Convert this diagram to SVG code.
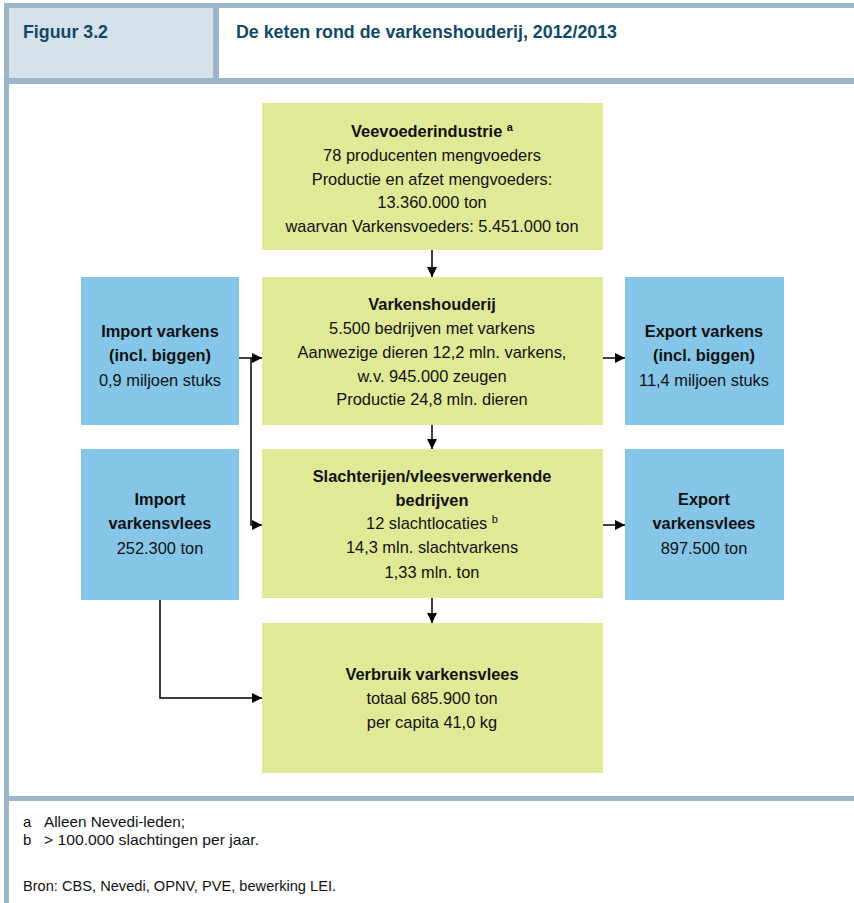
<svg xmlns="http://www.w3.org/2000/svg" width="854" height="903" viewBox="0 0 854 903">
<defs>
<marker id="ah" viewBox="0 0 10 10" refX="10" refY="5" markerWidth="10" markerHeight="10" markerUnits="userSpaceOnUse" orient="auto">
<path d="M0,0 L10,5 L0,10 z" fill="#000"/>
</marker>
<style>
.frame{fill:#9BB5CA}
.green{fill:#E0E996}
.blue{fill:#85C6E8}
.t{font-family:"Liberation Sans",Arial,sans-serif;font-size:16.4px;fill:#111;text-anchor:middle}
.b{font-weight:bold}
.hd{font-family:"Liberation Sans",Arial,sans-serif;font-size:17.5px;font-weight:bold;fill:#0E4A68}
.ft{font-family:"Liberation Sans",Arial,sans-serif;font-size:15px;fill:#111}
.c{fill:none;stroke:#000;stroke-width:1.5}
</style>
</defs>
<rect width="854" height="903" fill="#fff"/>
<g id="frame">
<rect class="frame" x="4" y="3" width="850" height="5"/>
<rect class="frame" x="4" y="3" width="5" height="900"/>
<rect x="9" y="8" width="204" height="70" fill="#D6E1E9"/>
<rect class="frame" x="213" y="8" width="6" height="70"/>
<rect class="frame" x="4" y="78" width="850" height="6"/>
<rect class="frame" x="4" y="796" width="850" height="5"/>
<text class="hd" x="23" y="38" textLength="85" lengthAdjust="spacingAndGlyphs">Figuur 3.2</text>
<text class="hd" x="236" y="38" textLength="381" lengthAdjust="spacingAndGlyphs">De keten rond de varkenshouderij, 2012/2013</text>
</g>
<g id="veevoeder">
<rect class="green" x="262" y="103" width="341" height="147"/>
<text class="t b" x="432" y="137">Veevoederindustrie <tspan font-size="11" dy="-6">a</tspan></text>
<text class="t" x="432" y="161">78 producenten mengvoeders</text>
<text class="t" x="432" y="185">Productie en afzet mengvoeders:</text>
<text class="t" x="432" y="208">13.360.000 ton</text>
<text class="t" x="432" y="232">waarvan Varkensvoeders: 5.451.000 ton</text>
</g>
<g id="varkenshouderij">
<rect class="green" x="262" y="277" width="341" height="148"/>
<text class="t b" x="432" y="310">Varkenshouderij</text>
<text class="t" x="432" y="334">5.500 bedrijven met varkens</text>
<text class="t" x="432" y="358">Aanwezige dieren 12,2 mln. varkens,</text>
<text class="t" x="432" y="382">w.v. 945.000 zeugen</text>
<text class="t" x="432" y="405">Productie 24,8 mln. dieren</text>
</g>
<g id="slachterijen">
<rect class="green" x="262" y="449" width="341" height="149"/>
<text class="t b" x="432" y="482">Slachterijen/vleesverwerkende</text>
<text class="t b" x="432" y="506">bedrijven</text>
<text class="t" x="432" y="529">12 slachtlocaties <tspan font-size="11" dy="-6">b</tspan></text>
<text class="t" x="432" y="553">14,3 mln. slachtvarkens</text>
<text class="t" x="432" y="578">1,33 mln. ton</text>
</g>
<g id="verbruik">
<rect class="green" x="262" y="623" width="341" height="150"/>
<text class="t b" x="432" y="680">Verbruik varkensvlees</text>
<text class="t" x="432" y="704">totaal 685.900 ton</text>
<text class="t" x="432" y="728">per capita 41,0 kg</text>
</g>
<g id="import-varkens">
<rect class="blue" x="81" y="277" width="158" height="148"/>
<text class="t b" x="160" y="337">Import varkens</text>
<text class="t b" x="160" y="361">(incl. biggen)</text>
<text class="t" x="160" y="386">0,9 miljoen stuks</text>
</g>
<g id="import-vlees">
<rect class="blue" x="81" y="449" width="158" height="151"/>
<text class="t b" x="160" y="505">Import</text>
<text class="t b" x="160" y="529">varkensvlees</text>
<text class="t" x="160" y="554">252.300 ton</text>
</g>
<g id="export-varkens">
<rect class="blue" x="625" y="277" width="159" height="148"/>
<text class="t b" x="704" y="337">Export varkens</text>
<text class="t b" x="704" y="361">(incl. biggen)</text>
<text class="t" x="704" y="386">11,4 miljoen stuks</text>
</g>
<g id="export-vlees">
<rect class="blue" x="625" y="449" width="159" height="151"/>
<text class="t b" x="704" y="505">Export</text>
<text class="t b" x="704" y="529">varkensvlees</text>
<text class="t" x="704" y="554">897.500 ton</text>
</g>
<g id="connectors">
<line class="c" x1="432" y1="250" x2="432" y2="277" marker-end="url(#ah)"/>
<line class="c" x1="432" y1="425" x2="432" y2="449" marker-end="url(#ah)"/>
<line class="c" x1="432" y1="598" x2="432" y2="623" marker-end="url(#ah)"/>
<polyline class="c" points="239,358 262,358" marker-end="url(#ah)"/>
<polyline class="c" points="251,358 251,525 262,525" marker-end="url(#ah)"/>
<line class="c" x1="603" y1="358" x2="625" y2="358" marker-end="url(#ah)"/>
<line class="c" x1="603" y1="525" x2="625" y2="525" marker-end="url(#ah)"/>
<polyline class="c" points="160,600 160,698 262,698" marker-end="url(#ah)"/>
</g>
<g id="footer">
<text class="ft" x="23" y="827">a</text>
<text class="ft" x="44" y="827" textLength="141" lengthAdjust="spacingAndGlyphs">Alleen Nevedi-leden;</text>
<text class="ft" x="23" y="845">b</text>
<text class="ft" x="44" y="845" textLength="215" lengthAdjust="spacingAndGlyphs">&gt; 100.000 slachtingen per jaar.</text>
<text class="ft" x="23" y="891" textLength="313" lengthAdjust="spacingAndGlyphs">Bron: CBS, Nevedi, OPNV, PVE, bewerking LEI.</text>
</g>
</svg>
